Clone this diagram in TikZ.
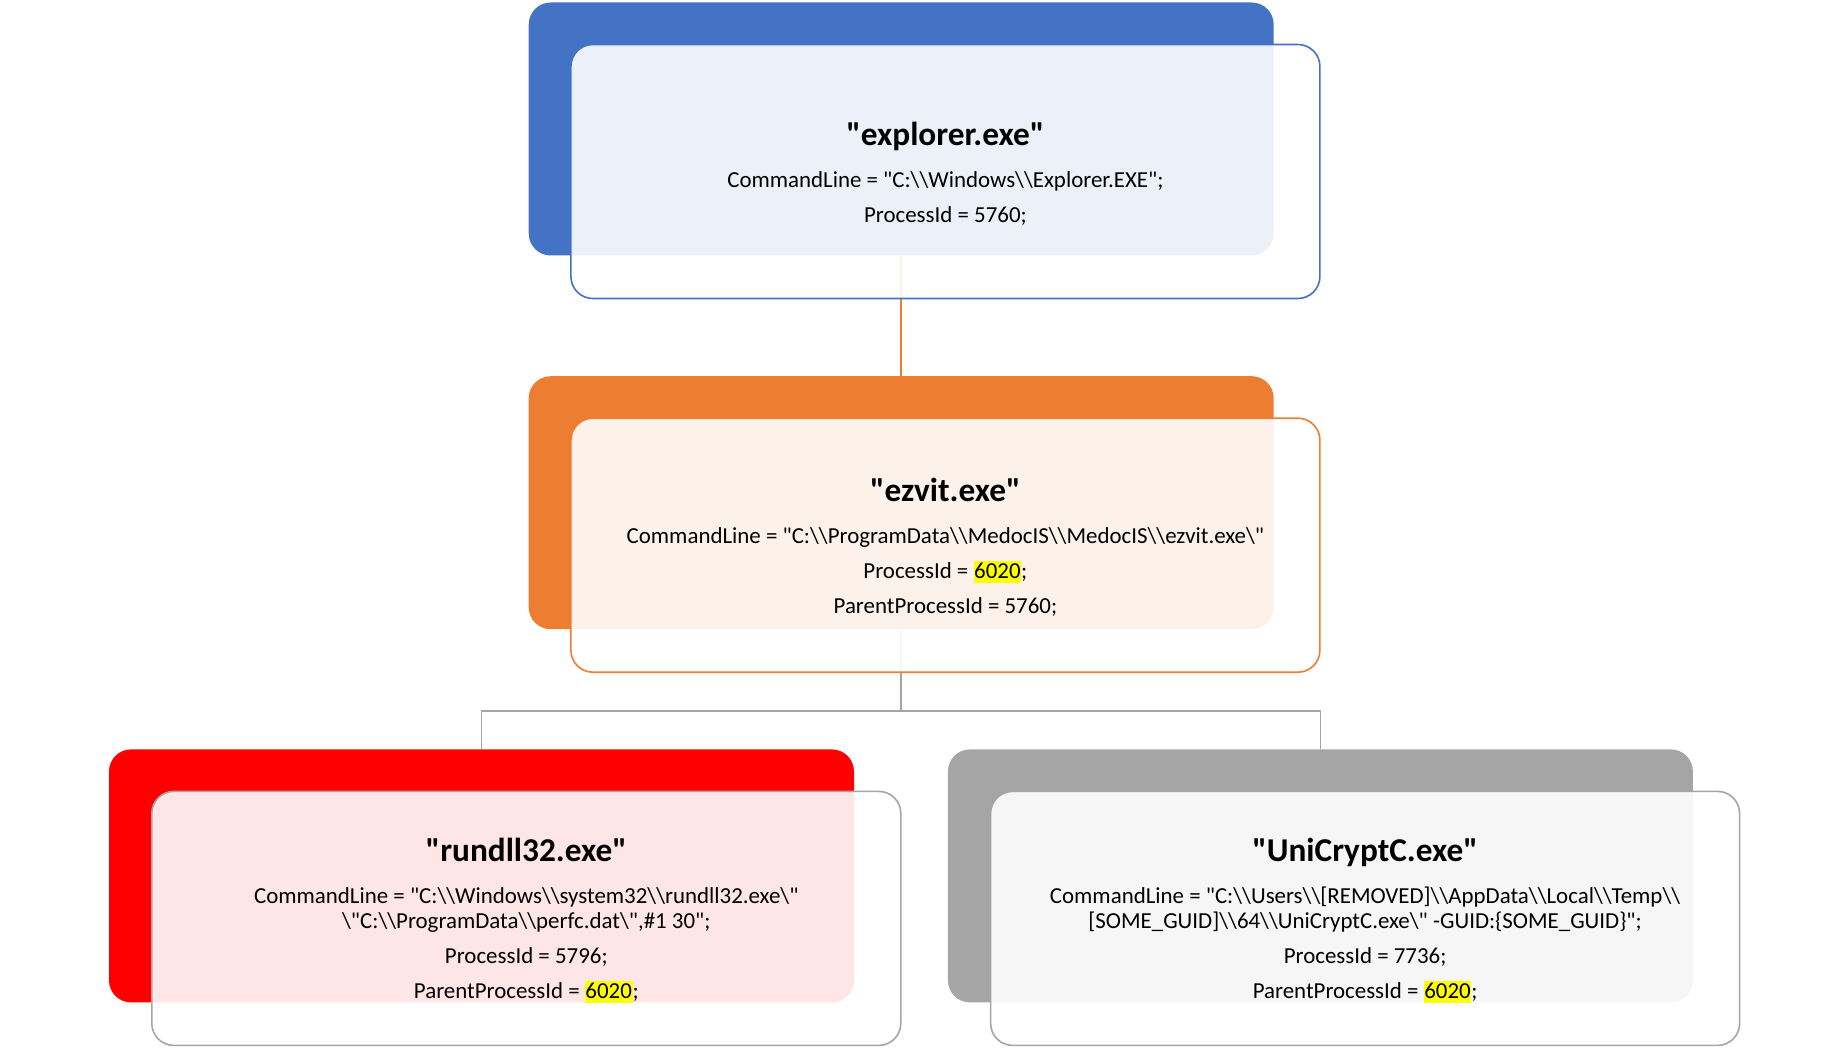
\documentclass[tikz,border=0pt]{standalone}
\usepackage{fontspec}
\setmainfont{Carlito}[Ligatures=TeXOff]
\usetikzlibrary{positioning}
\definecolor{cblue}{HTML}{4472C4}
\definecolor{corange}{HTML}{ED7D31}
\definecolor{cred}{HTML}{FF0000}
\definecolor{cgray}{HTML}{A5A5A5}
\definecolor{hly}{HTML}{FFFF00}
\newcommand\hlt[1]{{\setlength\fboxsep{0.6pt}\colorbox{hly}{\rule[-4pt]{0pt}{21pt}#1}}}
\newcommand\bs{\textbackslash}
\tikzset{
  backbox/.style={rectangle, rounded corners=22pt, minimum width=745pt, minimum height=253pt, inner sep=0pt, draw=none},
  frontbox/.style={rectangle, rounded corners=22pt, minimum width=749pt, minimum height=254pt, inner sep=0pt, fill=white, fill opacity=0.9, text opacity=1, line width=1.6pt, align=center, font=\fontsize{22.9}{25}\selectfont},
  conn/.style={line width=1.6pt}
}
\newcommand\ttlfont{\fontsize{33.3}{36}\selectfont\bfseries}
\begin{document}
\begin{tikzpicture}[x=1pt,y=-1pt]
\useasboundingbox (0,0) rectangle (1846,1048);
% back boxes
\node[backbox, fill=cblue] (b1) at (901.2,129) {};
\node[backbox, fill=corange] (b2) at (901.2,502.7) {};
\node[backbox, fill=cred] (b3) at (481.5,875.9) {};
\node[backbox, fill=cgray] (b4) at (1320.4,875.9) {};
% connectors
\coordinate (j) at (901.2,711);
\draw[conn, draw=corange] (b1.south) -- (b2.north);
\draw[conn, draw=cgray] (b2.south) -- (j) -| (b3.north);
\draw[conn, draw=cgray] (j) -| (b4.north);
% front boxes
\node[frontbox, draw=cblue] (f1) at (945.4,171.5) {};
\node[frontbox, draw=corange] (f2) at (945.4,545.2) {};
\node[frontbox, draw=cgray] (f3) at (526.3,918.4) {};
\node[frontbox, draw=cgray] (f4) at (1365.1,918.4) {};
% texts
\node[align=center, font=\fontsize{22.9}{25}\selectfont] (t1) at ([yshift=-2pt]f1.center) {{\ttlfont "explorer.exe"}\\[17pt]
CommandLine = "C:\bs\bs Windows\bs\bs Explorer.EXE";\\[10pt]
ProcessId = 5760;};
\node[align=center, font=\fontsize{22.9}{25}\selectfont] (t2) at ([yshift=-2pt]f2.center) {{\ttlfont "ezvit.exe"}\\[17pt]
CommandLine = "C:\bs\bs ProgramData\bs\bs MedocIS\bs\bs MedocIS\bs\bs ezvit.exe\bs"\\[10pt]
ProcessId = \hlt{6020};\\[10pt]
ParentProcessId = 5760;};
\node[align=center, font=\fontsize{22.9}{25}\selectfont] (t3) at ([yshift=-2pt]f3.center) {{\ttlfont "rundll32.exe"}\\[17pt]
CommandLine = "C:\bs\bs Windows\bs\bs system32\bs\bs rundll32.exe\bs"\\
\bs"C:\bs\bs ProgramData\bs\bs perfc.dat\bs",\#1 30";\\[10pt]
ProcessId = 5796;\\[10pt]
ParentProcessId = \hlt{6020};};
\node[align=center, font=\fontsize{22.9}{25}\selectfont] (t4) at ([yshift=-2pt]f4.center) {{\ttlfont "UniCryptC.exe"}\\[17pt]
CommandLine = "C:\bs\bs Users\bs\bs [REMOVED]\bs\bs AppData\bs\bs Local\bs\bs Temp\bs\bs\\
{[SOME\_GUID]}\bs\bs 64\bs\bs UniCryptC.exe\bs" -GUID:\{SOME\_GUID\}";\\[10pt]
ProcessId = 7736;\\[10pt]
ParentProcessId = \hlt{6020};};
\end{tikzpicture}
\end{document}
